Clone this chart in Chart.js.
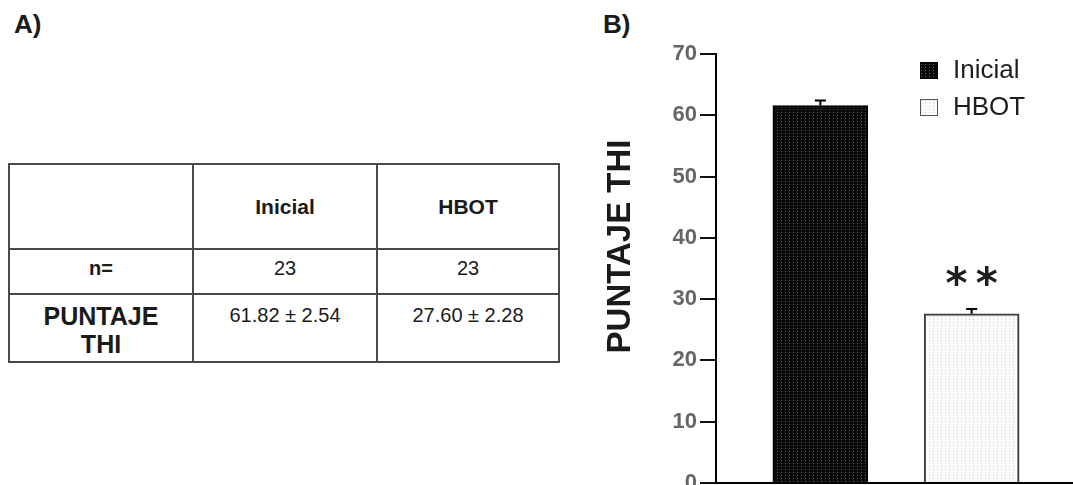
<!DOCTYPE html>
<html>
<head>
<meta charset="utf-8">
<script src="https://cdn.jsdelivr.net/npm/chart.js@4/dist/chart.umd.min.js"></script>
<style>
  html, body { margin: 0; padding: 0; background: #fff; overflow: hidden; width: 1073px; height: 485px; }
  body { position: relative; font-family: "Liberation Sans", Arial, sans-serif; color: #1a1a1a; }
  .panel-label { position: absolute; font-weight: bold; font-size: 26px; line-height: 26px; }
  #tbl { position: absolute; left: 8px; top: 163px; border-collapse: collapse; }
  #tbl td { border: 2px solid #4a4a4a; text-align: center; padding: 0; }
  #tbl .c0, #tbl .c1 { width: 182px; }
  #tbl .c2 { width: 180px; }
  #tbl tr.head td { height: 83px; font-weight: bold; font-size: 21px; }
  #tbl tr.nrow td { height: 37px; font-size: 20px; vertical-align: middle; padding-bottom: 6px; }
  #tbl tr.nrow td.c0 { font-weight: bold; }
  #tbl tr.score td { height: 57px; font-size: 20px; vertical-align: top; padding-top: 9px; }
  #tbl tr.score td.c0 { font-weight: bold; font-size: 25px; line-height: 28px; padding-top: 7px; height: 59px; }
  #chartBox { position: absolute; left: 600px; top: 0; width: 473px; height: 520px; }
</style>
</head>
<body>
<div class="panel-label" style="left:14px; top:11px;">A)</div>
<div class="panel-label" style="left:603px; top:11px;">B)</div>
<table id="tbl"></table>
<div id="chartBox"><canvas id="thiChart" width="473" height="520"></canvas></div>

<script>
// ---------- data ----------
const categories = ['Inicial', 'HBOT'];
const means = [61.6, 27.6];          // bar heights
const errors = [0.8, 0.8];           // upper error bars
const tableN = ['23', '23'];
const tableScores = ['61.82 \u00b1 2.54', '27.60 \u00b1 2.28'];
const rowLabels = ['n=', 'PUNTAJE<br>THI'];
const yTitle = 'PUNTAJE THI';
const signif = ['', '**'];

// ---------- table (panel A) ----------
function buildTable() {
  const t = document.getElementById('tbl');
  let html = '<tr class="head"><td class="c0"></td>';
  categories.forEach((c, i) => { html += `<td class="c${i + 1}">${c}</td>`; });
  html += '</tr><tr class="nrow"><td class="c0">' + rowLabels[0] + '</td>';
  tableN.forEach((n, i) => { html += `<td class="c${i + 1}">${n}</td>`; });
  html += '</tr><tr class="score"><td class="c0">' + rowLabels[1] + '</td>';
  tableScores.forEach((s, i) => { html += `<td class="c${i + 1}">${s}</td>`; });
  html += '</tr>';
  t.innerHTML = html;
}
buildTable();

// ---------- fill patterns ----------
function makePattern(bg, dot, w, h) {
  const c = document.createElement('canvas');
  c.width = w; c.height = h;
  const g = c.getContext('2d');
  g.fillStyle = bg;
  g.fillRect(0, 0, w, h);
  g.fillStyle = dot;
  g.fillRect(1, 1, 1, 1);
  return g.createPattern(c, 'repeat');
}
const darkFill = makePattern('#0b0b0b', '#5a5a5a', 4, 3);
const lightFill = makePattern('#fbfbfb', '#cfcfcf', 4, 3);
const fills = [darkFill, lightFill];
const borders = ['#000', '#3a3a3a'];

Chart.defaults.font.family = '"Liberation Sans", Arial, sans-serif';

// ---------- extras: error bars, stars, axis title, legend ----------
const extrasPlugin = {
  id: 'extras',
  afterDatasetsDraw(chart) {
    const ctx = chart.ctx;
    const y = chart.scales.y;
    ctx.save();
    ctx.strokeStyle = '#000';
    ctx.lineWidth = 2;
    chart.data.datasets.forEach((ds, i) => {
      const bar = chart.getDatasetMeta(i).data[0];
      const top = y.getPixelForValue(means[i] + errors[i]);
      ctx.beginPath();
      ctx.moveTo(bar.x, bar.y);
      ctx.lineTo(bar.x, top);
      ctx.moveTo(bar.x - 5.5, top);
      ctx.lineTo(bar.x + 5.5, top);
      ctx.stroke();
      if (signif[i]) {
        ctx.fillStyle = '#1e1e1e';
        ctx.font = 'bold 42px "DejaVu Sans", sans-serif';
        ctx.textAlign = 'center';
        ctx.textBaseline = 'alphabetic';
        ctx.fillText(signif[i].split('').join('\u2009'), bar.x, bar.y - 16);
      }
    });

    // rotated y-axis title
    ctx.save();
    ctx.translate(20.5, y.getPixelForValue(38.6));
    ctx.rotate(-Math.PI / 2);
    ctx.fillStyle = '#1a1a1a';
    ctx.font = 'bold 33px "Liberation Sans", Arial, sans-serif';
    ctx.textAlign = 'center';
    ctx.textBaseline = 'middle';
    ctx.fillText(yTitle, 0, 0);
    ctx.restore();

    // legend
    chart.data.datasets.forEach((ds, i) => {
      const bx = 320, by = 62 + i * 37;
      ctx.fillStyle = fills[i];
      ctx.fillRect(bx, by, 18, 17);
      ctx.strokeStyle = i === 0 ? '#000' : '#555';
      ctx.lineWidth = 1;
      ctx.strokeRect(bx + 0.5, by + 0.5, 17, 16);
      ctx.fillStyle = '#1e1e1e';
      ctx.font = '26px "Liberation Sans", Arial, sans-serif';
      ctx.textAlign = 'left';
      ctx.textBaseline = 'alphabetic';
      ctx.fillText(ds.label, 353, by + 16);
    });
    ctx.restore();
  }
};

// ---------- chart (panel B) ----------
const chart = new Chart(document.getElementById('thiChart'), {
  type: 'bar',
  data: {
    datasets: categories.map((c, i) => ({
      label: c,
      data: [{ x: i + 1, y: means[i] }],
      backgroundColor: fills[i],
      borderColor: borders[i],
      borderWidth: 2,
      barThickness: 95,
      grouped: false
    }))
  },
  options: {
    responsive: false,
    animation: false,
    layout: { padding: { top: 54, left: 0, right: 0, bottom: 0 } },
    plugins: {
      legend: { display: false },
      tooltip: { enabled: false }
    },
    scales: {
      x: {
        type: 'linear',
        offset: false,
        min: 0.31,
        max: 2.67,
        ticks: { display: false },
        grid: { display: false },
        border: { display: true, color: '#000', width: 2 },
        afterFit: s => { s.height = 37; }
      },
      y: {
        min: 0,
        max: 70,
        ticks: {
          stepSize: 10,
          padding: 3,
          color: '#666',
          font: { size: 22, weight: 'bold' }
        },
        grid: { drawOnChartArea: false, tickLength: 16, color: '#111', lineWidth: 2 },
        border: { display: true, color: '#000', width: 2 },
        afterFit: s => { s.width = 116; }
      }
    }
  },
  plugins: [extrasPlugin]
});
</script>
</body>
</html>
